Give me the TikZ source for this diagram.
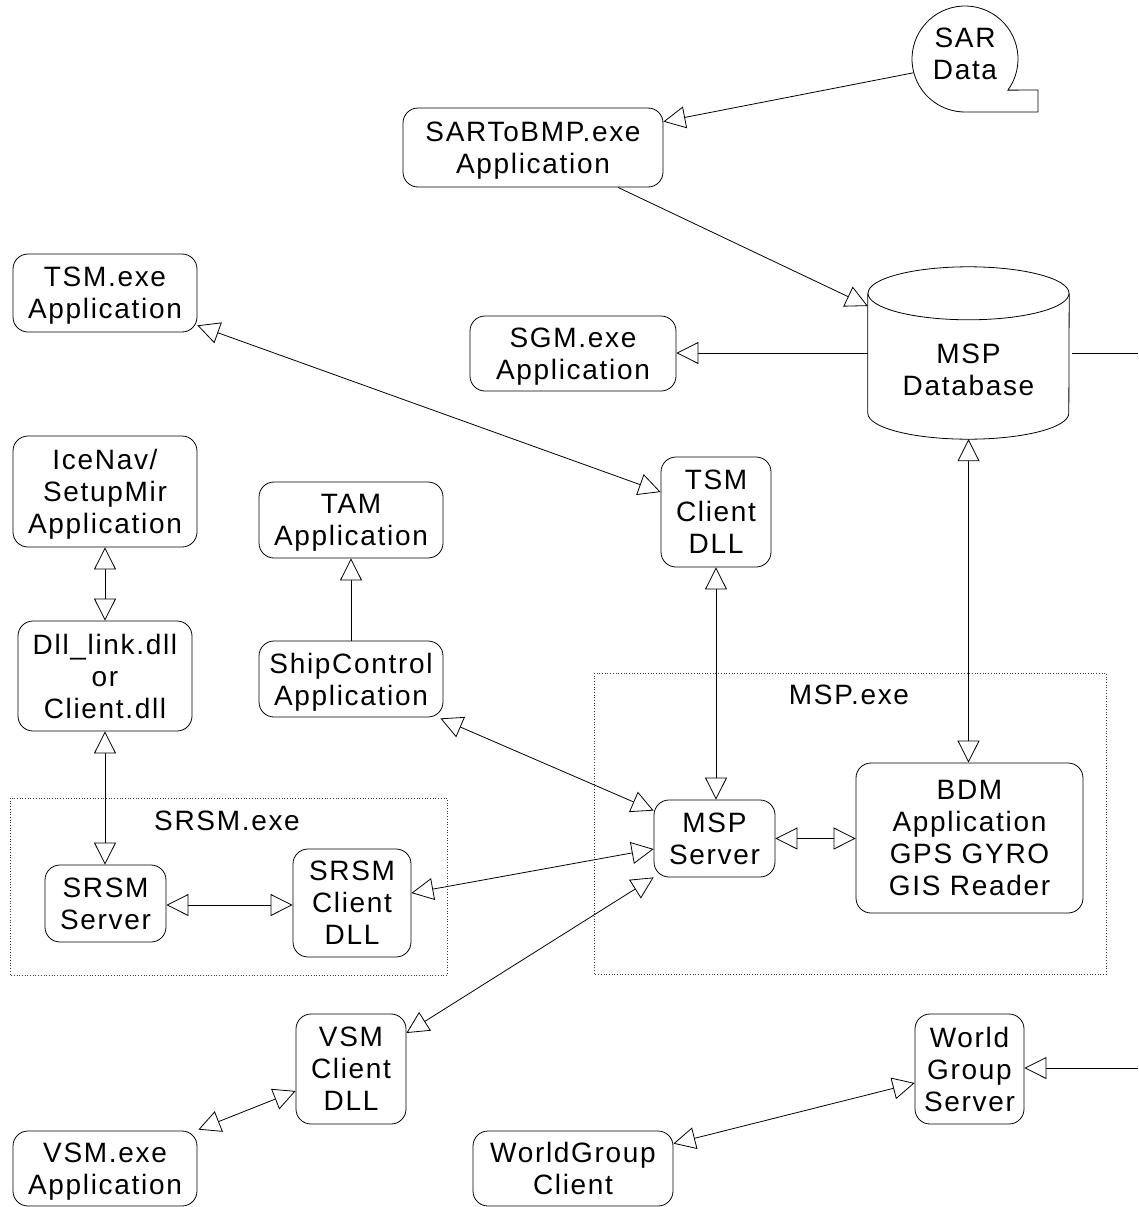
\documentclass[tikz,border=0pt]{standalone}
\usepackage{fontspec}
\setmainfont{Liberation Sans}[LetterSpace=6]
\usetikzlibrary{arrows.meta,calc}
\begin{document}
\begin{tikzpicture}[x=1pt,y=-1pt,
  txt/.style={font=\fontsize{28}{32}\selectfont},
  box/.style={draw, rounded corners=15pt, line width=0.8pt, align=center, inner sep=0pt, text depth=0pt, txt},
  lbl/.style={align=center, inner sep=0pt, txt},
  grp/.style={draw=black!75, dotted, line width=0.7pt},
  conn/.style={line width=0.8pt},
  >={Triangle[length=22pt,width=22pt,fill=white,line width=0.8pt]}]
\useasboundingbox (0,0) rectangle (1138,1207);

% group frames
\draw[grp] (10,798) rectangle (447,975);
\draw[grp] (594,673) rectangle (1106,974);
\node[lbl] (srsmlbl) at (227,821) {SRSM.exe};
\node[lbl] (msplbl) at (849,695) {MSP.exe};

% SAR Data (tape)
\node[circle, minimum size=106, inner sep=0pt] (sar) at (965,59) {};
\draw[line width=0.8pt] (sar.center) ++(36:53) arc[start angle=36, end angle=-270, radius=53] -- ++(73,0) -- ++(0,-22) -- cycle;
\node[lbl] (sartxt) at (965,54) {SAR\\Data};

% MSP Database (cylinder)
\node[minimum width=201, minimum height=172, inner sep=0pt] (db) at (968.5,353) {};
\draw[line width=0.8pt] ($(db.north)+(0,26.5)$) ellipse [x radius=100.5, y radius=26.5];
\draw[line width=0.8pt] ($(db.north west)+(0,26.5)$) -- ($(db.south west)+(0,-26)$)
  arc[start angle=180, end angle=0, x radius=100.5, y radius=26] -- ($(db.north east)+(0,26.5)$);
\node[lbl] (dbtxt) at (968.5,370) {MSP\\Database};

% boxes
\node[box, minimum width=260, minimum height=79] (s2b) at (533,147.5) {SARToBMP.exe\\Application};
\node[box, minimum width=184, minimum height=78] (tsm) at (105,293) {TSM.exe\\Application};
\node[box, minimum width=206, minimum height=75] (sgm) at (573,353.5) {SGM.exe\\Application};
\node[box, minimum width=184, minimum height=111] (ice) at (105,491.5) {IceNav/\\SetupMir\\Application};
\node[box, minimum width=174, minimum height=110] (dll) at (105,676) {Dll\_link.dll\\or\\Client.dll};
\node[box, minimum width=184, minimum height=76] (tam) at (351,520) {TAM\\Application};
\node[box, minimum width=184, minimum height=76] (ship) at (351,679) {ShipControl\\Application};
\node[box, minimum width=110, minimum height=110] (tsmc) at (716,512) {TSM\\Client\\DLL};
\node[box, minimum width=121, minimum height=77] (srsms) at (105.5,903.5) {SRSM\\Server};
\node[box, minimum width=118, minimum height=108] (srsmc) at (352,903) {SRSM\\Client\\DLL};
\node[box, minimum width=121, minimum height=77] (msps) at (714.5,838.5) {MSP\\Server};
\node[box, minimum width=227, minimum height=150] (bdm) at (969.5,838) {BDM\\Application\\GPS GYRO\\GIS Reader};
\node[box, minimum width=110, minimum height=110] (vsmc) at (351,1069) {VSM\\Client\\DLL};
\node[box, minimum width=184, minimum height=75] (vsm) at (105,1168.5) {VSM.exe\\Application};
\node[box, minimum width=200, minimum height=75] (wgc) at (573,1168.5) {WorldGroup\\Client};
\node[box, minimum width=109, minimum height=110] (wgs) at (969.5,1069) {World\\Group\\Server};

\coordinate (dbout) at (1138,353);
\coordinate (wgsin) at (1138,1068);

% connectors
\draw[conn,->] (sar.195) -- ($(s2b.north east)+(0,14)$);
\draw[conn,->] ($(s2b.south)+(85,0)$) -- ($(db.west)+(0,-47)$);
\draw[conn,->] (db.west) -- (db.west -| sgm.east);
\draw[conn] ($(db.east)+(3,0)$) -- (dbout);
\draw[conn,<->] ($(tsm.south east)+(0,-7)$) -- ($(tsmc.west)+(0,-20)$);
\draw[conn,<->] (ice.south) -- (dll.north);
\draw[conn,<->] (dll.south) -- (dll.south |- srsms.north);
\draw[conn,->] (ship.north) -- (tam.south);
\draw[conn,<->] ($(ship.south east)+(-3,1)$) -- ($(msps.north west)+(0,11)$);
\draw[conn,<->] (tsmc.south) -- (tsmc.south |- msps.north);
\draw[conn,<->] (db.south) -- (db.south |- bdm.north);
\draw[conn,<->] (msps.east) -- (msps.east -| bdm.west);
\draw[conn,<->] ($(srsms.east)+(0,1.5)$) -- ($(srsms.east -| srsmc.west)+(0,1.5)$);
\draw[conn,<->] ($(srsmc.east)+(0,-10)$) -- ($(msps.west)+(0,10.5)$);
\draw[conn,<->] ($(vsmc.east)+(0,-36)$) -- (msps.south west);
\draw[conn,<->] ($(vsm.north east)+(1,-1)$) -- ($(vsmc.west)+(0,22)$);
\draw[conn,<->] ($(wgc.north east)+(0,13)$) -- ($(wgs.west)+(0,14)$);
\draw[conn,->] (wgsin) -- (wgsin -| wgs.east);
\end{tikzpicture}
\end{document}
